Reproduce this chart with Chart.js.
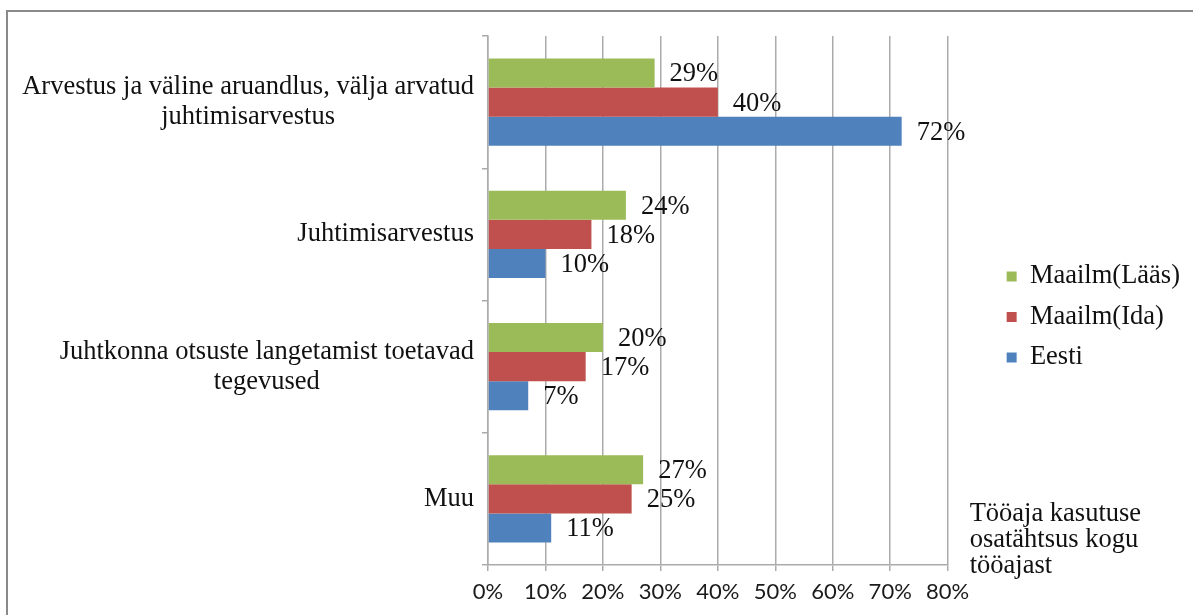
<!DOCTYPE html>
<html>
<head>
<meta charset="utf-8">
<script src="https://cdn.jsdelivr.net/npm/chart.js@4.4.1/dist/chart.umd.min.js"></script>
<style>
html,body{margin:0;padding:0;background:#fff;}
#wrap{position:relative;width:1193px;height:615px;}
canvas{display:block;}
</style>
</head>
<body>
<div id="wrap"><canvas id="c" width="1193" height="615"></canvas></div>
<script>
// ---- data ----
const categories = [
  ["Arvestus ja väline aruandlus, välja arvatud", "juhtimisarvestus"],
  ["Juhtimisarvestus"],
  ["Juhtkonna otsuste langetamist toetavad", "tegevused"],
  ["Muu"]
];
const seriesNames = ["Maailm(Lääs)", "Maailm(Ida)", "Eesti"];
const westValues = [29, 24, 20, 27];
const eastValues = [40, 18, 17, 25];
const estoniaValues = [72, 10, 7, 11];
const xTickLabels = ["0%", "10%", "20%", "30%", "40%", "50%", "60%", "70%", "80%"];
const axisTitleLines = ["Tööaja kasutuse", "osatähtsus kogu", "tööajast"];

// ---- styles ----
const SERIF = '"Liberation Serif", "Times New Roman", serif';
const colors = ["#9BBB59", "#C0504D", "#4F81BD"];
const gridColor = "#ababab";

const frame = {
  id: 'frame',
  beforeDraw(chart) {
    const ctx = chart.ctx;
    ctx.save();
    ctx.fillStyle = '#fff';
    ctx.fillRect(0, 0, chart.width, chart.height);
    ctx.restore();
  },
  afterDraw(chart) {
    const ctx = chart.ctx;
    ctx.save();
    ctx.strokeStyle = '#8a8a8a';
    ctx.lineWidth = 2;
    ctx.beginPath();
    ctx.moveTo(7, chart.height);
    ctx.lineTo(7, 11);
    ctx.lineTo(chart.width, 11);
    ctx.stroke();
    ctx.restore();
  }
};

const categoryLabels = {
  id: 'categoryLabels',
  afterDraw(chart) {
    const ctx = chart.ctx;
    const y = chart.scales.y;
    ctx.save();
    ctx.font = '26.5px ' + SERIF;
    ctx.fillStyle = '#111';
    ctx.textAlign = 'center';
    ctx.textBaseline = 'middle';
    const right = chart.chartArea.left - 14;
    chart.data.labels.forEach((lines, i) => {
      const arr = Array.isArray(lines) ? lines : [lines];
      const w = Math.max(...arr.map(l => ctx.measureText(l).width));
      const cx = right - w / 2;
      const cy = y.getPixelForValue(i);
      const lh = 30;
      arr.forEach((l, k) => {
        ctx.fillText(l, cx, cy + (k - (arr.length - 1) / 2) * lh);
      });
    });
    ctx.restore();
  }
};

const valueLabels = {
  id: 'valueLabels',
  afterDatasetsDraw(chart) {
    const ctx = chart.ctx;
    ctx.save();
    ctx.font = '26.5px ' + SERIF;
    ctx.fillStyle = '#111';
    ctx.textAlign = 'left';
    ctx.textBaseline = 'middle';
    chart.data.datasets.forEach((ds, di) => {
      const meta = chart.getDatasetMeta(di);
      meta.data.forEach((bar, i) => {
        ctx.fillText(ds.data[i] + '%', bar.x + 15, bar.y + 1.5);
      });
    });
    ctx.restore();
  }
};

const axisTitle = {
  id: 'axisTitle',
  afterDraw(chart) {
    const ctx = chart.ctx;
    const a = chart.chartArea;
    ctx.save();
    ctx.font = '26.5px ' + SERIF;
    ctx.fillStyle = '#111';
    ctx.textAlign = 'left';
    ctx.textBaseline = 'alphabetic';
    axisTitleLines.forEach((l, k) => {
      ctx.fillText(l, a.right + 22, a.bottom - 44 + k * 26);
    });
    ctx.restore();
  }
};

const seriesValues = [westValues, eastValues, estoniaValues];

new Chart(document.getElementById('c'), {
  type: 'bar',
  data: {
    labels: categories,
    datasets: seriesNames.map((name, i) => ({
      label: name,
      data: seriesValues[i],
      backgroundColor: colors[i],
      borderWidth: 0,
      categoryPercentage: 0.66,
      barPercentage: 1.0
    }))
  },
  options: {
    indexAxis: 'y',
    responsive: false,
    animation: false,
    devicePixelRatio: 1,
    layout: { padding: { left: 0, right: 3, top: 36, bottom: 17 } },
    plugins: {
      legend: {
        position: 'right',
        align: 'center',
        labels: {
          boxWidth: 10,
          boxHeight: 10,
          padding: 14,
          color: '#111',
          font: { family: SERIF, size: 26.5 }
        }
      },
      tooltip: { enabled: false }
    },
    scales: {
      x: {
        type: 'linear',
        min: 0,
        max: 80,
        ticks: {
          stepSize: 10,
          padding: 8,
          color: '#1a1a1a',
          font: { family: 'Lato', size: 22 },
          callback: (v, i) => xTickLabels[i]
        },
        grid: { color: gridColor, lineWidth: 1.5, tickLength: 6, drawTicks: true },
        border: { display: true, color: gridColor, width: 1.5 },
        afterFit(s) {
          s.height = 33;
          // tick labels may extend below this box; don't clip them
          s._computeLabelArea = () => undefined;
        }
      },
      y: {
        type: 'category',
        offset: true,
        ticks: { display: false },
        grid: { offset: true, drawOnChartArea: false, drawTicks: true, tickLength: 6, color: gridColor, lineWidth: 1.5 },
        border: { display: true, color: gridColor, width: 1.5 },
        afterFit(s) { s.width = 488; }
      },
      gap: {
        type: 'linear',
        axis: 'y',
        position: 'right',
        display: true,
        ticks: { display: false },
        grid: { display: false },
        border: { display: false },
        afterFit(s) { s.width = 45; }
      }
    }
  },
  plugins: [frame, categoryLabels, valueLabels, axisTitle]
});
</script>
</body>
</html>
